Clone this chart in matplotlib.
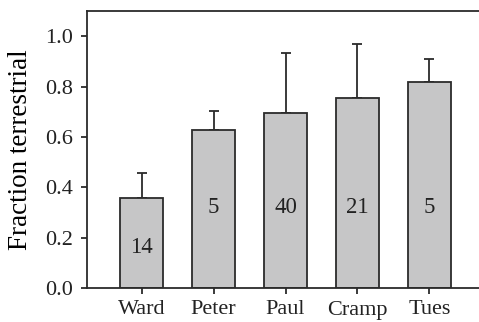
import numpy as np
import matplotlib.pyplot as plt

plt.rcParams['font.family'] = ['Liberation Serif', 'DejaVu Serif']

sites = ["Ward", "Peter", "Paul", "Cramp", "Tues"]
fraction = [0.358, 0.627, 0.696, 0.753, 0.819]
err_up = [0.097, 0.077, 0.238, 0.214, 0.091]
n_obs = [14, 5, 40, 21, 5]

fig = plt.figure(figsize=(4.79, 3.22), dpi=100)
ax = fig.add_axes([87 / 479, 34 / 322, 397 / 479, 277 / 322])

x = np.arange(len(sites))
ax.bar(x, fraction, width=0.6, color="#c6c6c7", edgecolor="#2b2b2b", linewidth=1.3, zorder=2)
ax.errorbar(x, fraction, yerr=[np.zeros(len(x)), err_up], fmt="none",
            ecolor="#2b2b2b", elinewidth=1.3, capsize=3.5, capthick=1.3, zorder=1)

# sample sizes written inside the bars
for xi, val, n in zip(x, fraction, n_obs):
    ty = 0.32 if val > 0.5 else val * 0.45
    ax.text(xi, ty, str(n), ha="center", va="center", fontsize=16.5, color="#222222")

ax.set_xlim(-0.757, 4.757)
ax.set_ylim(0, 1.1)
ax.set_yticks([0.0, 0.2, 0.4, 0.6, 0.8, 1.0])
ax.set_yticklabels(["0.0", "0.2", "0.4", "0.6", "0.8", "1.0"])
ax.set_xticks(x)
ax.set_xticklabels(sites)
ax.set_ylabel("Fraction terrestrial", fontsize=19.5, labelpad=9)
ax.tick_params(axis="both", direction="out", length=4, width=1.3, colors="#2b2b2b",
               labelsize=16, labelcolor="#222222")
ax.tick_params(axis="y", pad=6)
ax.tick_params(axis="x", pad=5)
for s in ax.spines.values():
    s.set_linewidth(1.3)
    s.set_color("#2b2b2b")

plt.savefig("out.png", dpi=100)
